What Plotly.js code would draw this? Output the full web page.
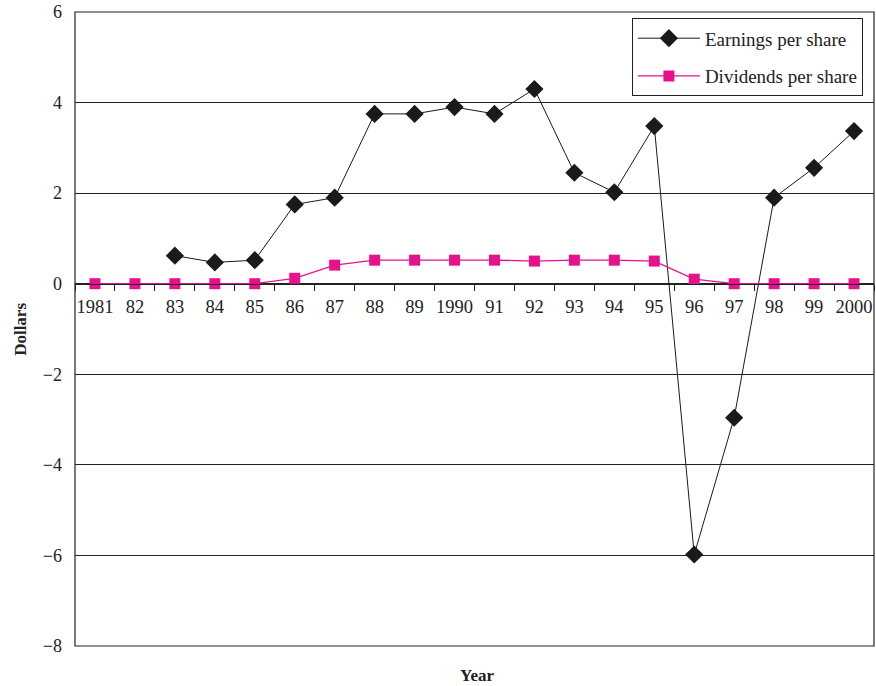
<!DOCTYPE html>
<html>
<head>
<meta charset="utf-8">
<script src="https://cdn.plot.ly/plotly-3.0.1.min.js"></script>
<style>html,body{margin:0;padding:0;background:#fff;}#chart{width:876px;height:686px;}</style>
</head>
<body>
<div id="chart"></div>
<script>
const years = ["1981","82","83","84","85","86","87","88","89","1990","91","92","93","94","95","96","97","98","99","2000"];
const earnings = [null, null, 0.62, 0.47, 0.52, 1.75, 1.9, 3.75, 3.75, 3.9, 3.75, 4.3, 2.45, 2.02, 3.48, -5.98, -2.96, 1.9, 2.56, 3.37];
const dividends = [0, 0, 0, 0, 0, 0.12, 0.41, 0.52, 0.52, 0.52, 0.52, 0.5, 0.52, 0.52, 0.5, 0.1, 0, 0, 0, 0];

const serif = "'Liberation Serif', 'Times New Roman', serif";

const traces = [
  {
    x: years, y: earnings, name: "Earnings per share", type: "scatter", mode: "lines+markers",
    line: {color: "#1a1a1a", width: 1},
    marker: {symbol: "diamond", size: 14, color: "#1a1a1a"},
    legendgroup: "a"
  },
  {
    x: years, y: dividends, name: "Dividends per share", type: "scatter", mode: "lines+markers",
    line: {color: "#e8118c", width: 1.3},
    marker: {symbol: "square", size: 11, color: "#e8118c"},
    legendgroup: "b"
  }
];

const layout = {
  width: 876, height: 686,
  margin: {l: 75, r: 2, t: 12, b: 40},
  paper_bgcolor: "#fff", plot_bgcolor: "#fff",
  font: {family: serif, size: 18, color: "#222"},
  showlegend: true,
  legend: {
    x: 0.697, y: 0.99, xanchor: "left", yanchor: "top",
    bordercolor: "#222", borderwidth: 1, bgcolor: "#fff",
    font: {family: serif, size: 19, color: "#222"},
    itemwidth: 62,
    tracegroupgap: 10
  },
  xaxis: {
    type: "category",
    range: [-0.5, 19.5],
    anchor: "free", position: 8/14,
    showline: true, linecolor: "#222", linewidth: 1,
    ticks: "outside", tickson: "boundaries", ticklen: 6, tickcolor: "#222",
    tickangle: 0, automargin: false, ticklabelstandoff: 6,
    showgrid: false, zeroline: false,
    tickfont: {family: serif, size: 18.5, color: "#222"}
  },
  yaxis: {
    range: [-8, 6],
    tickvals: [-8, -6, -4, -2, 0, 2, 4, 6],
    ticktext: ["\u22128", "\u22126", "\u22124", "\u22122", "0", "2", "4", "6"],
    showgrid: true, gridcolor: "#222", gridwidth: 1,
    zeroline: false, ticks: "", showline: false,
    ticklabelstandoff: 12, automargin: false,
    tickfont: {family: serif, size: 18, color: "#222"}
  },
  shapes: [
    {type: "rect", xref: "paper", yref: "paper", x0: 0, x1: 1, y0: 0, y1: 1,
     line: {color: "#222", width: 1.2}, fillcolor: "rgba(0,0,0,0)", layer: "above"}
  ],
  annotations: [
    {text: "<b>Dollars</b>", xref: "paper", yref: "paper", x: -0.069, y: 0.5,
     xanchor: "center", yanchor: "middle", textangle: -90, showarrow: false,
     font: {family: serif, size: 17, color: "#222"}},
    {text: "<b>Year</b>", xref: "paper", yref: "paper", x: 0.503, y: -0.047,
     xanchor: "center", yanchor: "middle", showarrow: false,
     font: {family: serif, size: 17, color: "#222"}}
  ]
};

Plotly.newPlot("chart", traces, layout, {displayModeBar: false, staticPlot: true});
</script>
</body>
</html>
